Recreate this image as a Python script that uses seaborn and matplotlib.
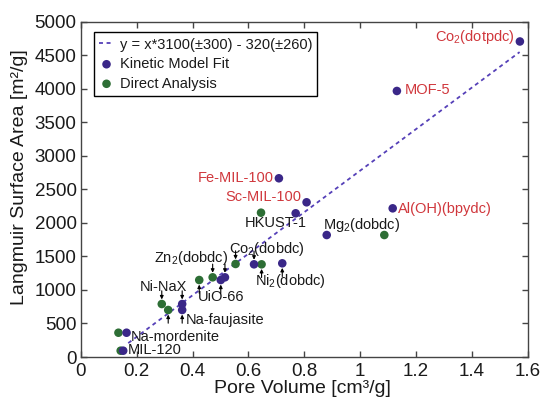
import matplotlib
matplotlib.use("Agg")
import matplotlib.pyplot as plt
import seaborn as sns
import pandas as pd
import numpy as np

# ---------------- data ----------------
kinetic_x = [1.571, 1.131, 0.709, 0.808, 0.769, 1.116, 0.880, 0.620, 0.721,
             0.516, 0.501, 0.363, 0.363, 0.164, 0.152]
kinetic_y = [4705, 3967, 2665, 2307, 2143, 2217, 1819, 1382, 1397,
             1188, 1148, 790, 701, 362, 94]
direct_x = [0.645, 1.086, 0.647, 0.554, 0.472, 0.424, 0.290, 0.313, 0.135, 0.143]
direct_y = [2152, 1819, 1382, 1387, 1188, 1148, 790, 701, 362, 94]

fit_slope = 3100
fit_intercept = -320
fit_x_range = [0.17, 1.57]

x_ticks = [0, 0.2, 0.4, 0.6, 0.8, 1.0, 1.2, 1.4, 1.6]
x_tick_labels = ["0", "0.2", "0.4", "0.6", "0.8", "1", "1.2", "1.4", "1.6"]
y_ticks = [0, 500, 1000, 1500, 2000, 2500, 3000, 3500, 4000, 4500, 5000]

fit_label = "y = x*3100(\u00b1300) - 320(\u00b1260)"
kinetic_label = "Kinetic Model Fit"
direct_label = "Direct Analysis"

# ---------------- style ----------------
sns.set_style("ticks")
plt.rcParams["font.family"] = ["Liberation Sans", "DejaVu Sans"]
plt.rcParams["mathtext.fontset"] = "custom"
plt.rcParams["mathtext.rm"] = "Liberation Sans"
plt.rcParams["mathtext.it"] = "Liberation Sans:italic"
plt.rcParams["mathtext.default"] = "regular"

PURPLE = "#3a2788"
GREEN = "#2d6e35"
LINE = "#5540b8"
RED = "#d0373c"
TXT = "#1a1a1a"
FRAME = "#444444"

fig = plt.figure(figsize=(5.44, 4.03), dpi=100)
ax = fig.add_axes([80.7 / 544, (403 - 357) / 403, (528 - 80.7) / 544, (357 - 21.7) / 403])

fit_df = pd.DataFrame({"x": fit_x_range,
                       "y": [fit_slope * v + fit_intercept for v in fit_x_range]})
sns.lineplot(data=fit_df, x="x", y="y", ax=ax, color=LINE, lw=1.3,
             linestyle=(0, (2.2, 2.0)), label=fit_label, zorder=2)

direct_df = pd.DataFrame({"x": direct_x, "y": direct_y})
kinetic_df = pd.DataFrame({"x": kinetic_x, "y": kinetic_y})
sns.scatterplot(data=direct_df, x="x", y="y", ax=ax, color=GREEN, s=38,
                edgecolor="none", label=direct_label, zorder=3)
sns.scatterplot(data=kinetic_df, x="x", y="y", ax=ax, color=PURPLE, s=38,
                edgecolor="none", label=kinetic_label, zorder=4)

# ---------------- labels ----------------
fs = 10.5
labels = [
    ("Co$_2$(dotpdc)", 1.553, 4776, RED, "right"),
    ("MOF-5", 1.160, 3982, RED, "left"),
    ("Fe-MIL-100", 0.689, 2674, RED, "right"),
    ("Sc-MIL-100", 0.790, 2381, RED, "right"),
    ("Al(OH)(bpydc)", 1.136, 2207, RED, "left"),
    ("HKUST-1", 0.697, 1994, TXT, "center"),
    ("Mg$_2$(dobdc)", 1.005, 1968, TXT, "center"),
    ("Co$_2$(dobdc)", 0.665, 1615, TXT, "center"),
    ("Ni$_2$(dobdc)", 0.750, 1130, TXT, "center"),
    ("Zn$_2$(dobdc)", 0.396, 1472, TXT, "center"),
    ("UiO-66", 0.501, 890, TXT, "center"),
    ("Ni-NaX", 0.295, 1048, TXT, "center"),
    ("Na-faujasite", 0.377, 552, TXT, "left"),
    ("Na-mordenite", 0.180, 303, TXT, "left"),
    ("MIL-120", 0.168, 104, TXT, "left"),
]
for t, lx, ly, c, ha in labels:
    ax.text(lx, ly, t, color=c, fontsize=fs, ha=ha, va="center", zorder=5)

# arrows: (series, index, direction)
arrows = [
    ("d", 4, "down"), ("k", 9, "down"),      # Zn2(dobdc)
    ("d", 5, "up"), ("k", 10, "up"),         # UiO-66
    ("d", 3, "down"), ("k", 7, "down"),      # Co2(dobdc)
    ("d", 2, "up"), ("k", 8, "up"),          # Ni2(dobdc)
    ("d", 6, "down"), ("k", 11, "down"),     # Ni-NaX
    ("d", 7, "up"), ("k", 12, "up"),         # Na-faujasite
]
for s, i, d in arrows:
    px = direct_x[i] if s == "d" else kinetic_x[i]
    py = direct_y[i] if s == "d" else kinetic_y[i]
    off = 9.5 if d == "down" else -9.5
    ax.annotate("", xy=(px, py), xytext=(0, off), textcoords="offset points",
                arrowprops=dict(arrowstyle="-|>", color="black", lw=0.8,
                                mutation_scale=5, shrinkA=0, shrinkB=3.3),
                zorder=5)

# ---------------- axes ----------------
ax.set_xlim(0, 1.6)
ax.set_ylim(0, 5000)
ax.set_xticks(x_ticks)
ax.set_xticklabels(x_tick_labels)
ax.set_yticks(y_ticks)
ax.tick_params(axis="both", direction="in", length=4, width=1, color=FRAME,
               labelsize=13.5, labelcolor=TXT, top=True, right=True)
ax.tick_params(axis="x", pad=4)
ax.tick_params(axis="y", pad=3)
for sp in ax.spines.values():
    sp.set_color(FRAME)
    sp.set_linewidth(1.0)

ax.set_xlabel("Pore Volume [cm\u00b3/g]", fontsize=14, color=TXT)
ax.set_ylabel("Langmuir Surface Area [m\u00b2/g]", fontsize=14, color=TXT)
ax.xaxis.set_label_coords(0.496, -0.068)
ax.yaxis.set_label_coords(-0.118, 0.537)

h, l = ax.get_legend_handles_labels()
order = [l.index(fit_label), l.index(kinetic_label), l.index(direct_label)]
leg = ax.legend([h[i] for i in order], [l[i] for i in order],
                loc="upper left", bbox_to_anchor=(0.030, 0.968),
                fontsize=fs, frameon=True, fancybox=False, framealpha=1,
                edgecolor="black", borderpad=0.35, labelspacing=0.38,
                handlelength=1.0, handletextpad=0.4, borderaxespad=0)
leg.get_frame().set_linewidth(1.0)
for t in leg.get_texts():
    t.set_color(TXT)

fig.savefig("out.png", dpi=100)
